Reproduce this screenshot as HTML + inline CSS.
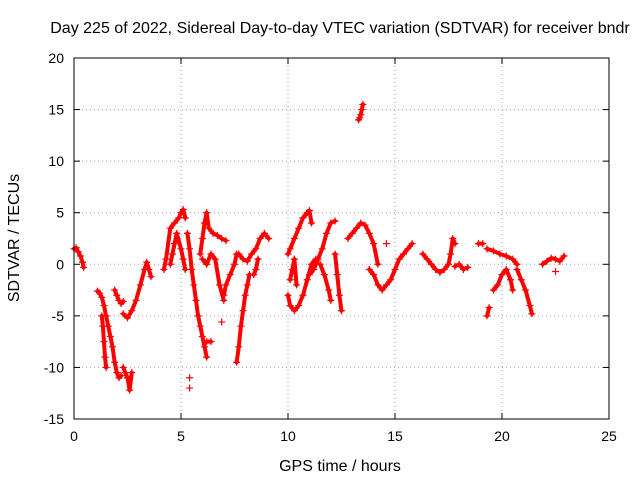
<!DOCTYPE html>
<html><head><meta charset="utf-8"><style>
body{margin:0;background:#fff;}
svg{font-family:"Liberation Sans",sans-serif;}
</style></head><body>
<svg id="c" width="640" height="480" viewBox="0 0 640 480">
<text x="340" y="33" font-size="16" text-anchor="middle">Day 225 of 2022, Sidereal Day-to-day VTEC variation (SDTVAR) for receiver bndr</text>
<text x="340" y="471" font-size="16" text-anchor="middle">GPS time / hours</text>
<text transform="translate(19,238) rotate(-90)" font-size="16" text-anchor="middle">SDTVAR / TECUs</text>
<g id="grid"></g><g id="marks"></g>
<rect x="74" y="58" width="535" height="361" fill="none" stroke="#000"/>
</svg>
<script>
const xTicks=[0,5,10,15,20,25];
const yTicks=[-15,-10,-5,0,5,10,15,20];
const trackX=[
[0,0.1,0.2,0.3,0.4,0.45],
[1.1,1.2,1.3,1.4,1.5,1.6,1.7,1.8,1.9,2.0,2.1,2.2],
[1.3,1.35,1.4,1.45,1.5],
[2.3,2.4,2.5,2.6,2.7],
[1.9,2.0,2.1,2.2,2.3],
[2.3,2.5,2.7,2.9,3.1,3.3,3.4,3.5,3.6],
[4.2,4.3,4.5,4.7,4.9,5.0,5.1,5.2],
[4.5,4.6,4.7,4.8,5.0,5.1,5.2],
[5.3,5.4,5.5,5.6,5.7,5.8,5.9,6.0,6.1,6.2],
[6.2,6.4],
[5.9,6.0,6.1,6.2,6.3,6.5,6.7,6.9,7.1],
[6.0,6.2,6.4,6.6,6.8,7.0],
[5.4],[5.4],[6.9],
[7.0,7.1,7.3,7.5,7.6],
[7.6,7.7,7.8,7.9,8.0,8.1,8.2],
[7.7,7.9,8.1,8.3,8.5,8.7,8.9,9.1],
[8.4,8.5,8.6],
[10,10.1,10.3,10.5,10.7,10.9,11.0,11.1],
[10,10.1,10.3,10.5,10.7,10.9,11.1,11.3],
[10.1,10.2,10.3,10.4],
[11.0,11.2,11.4,11.6,11.8,12,12.2],
[12.2,12.3,12.4,12.5],
[11.5,11.7,11.9,12.0],
[13.3,13.35,13.4,13.45,13.5],
[12.8,13.0,13.2,13.4,13.6,13.8,14,14.2],
[13.8,14.0,14.2,14.4,14.6,14.8,15,15.2,15.4,15.6,15.8],
[14.6],
[16.3,16.5,16.7,16.9,17.1,17.3,17.5,17.6,17.7,17.8],
[17.8,18,18.2,18.4],
[18.9,19.1],
[19.3,19.4],
[19.3,19.6,19.9,20.2,20.5,20.7],
[19.6,19.8,20,20.2,20.4,20.5],
[20.7,20.9,21.1,21.3,21.4],
[21.9,22.1,22.3,22.5,22.7,22.9],
[22.5]
];
const trackY=[
[1.5,1.6,1.2,0.8,0.2,-0.3],
[-2.6,-2.8,-3.2,-4,-5,-6,-7,-8,-9.5,-10.5,-11,-10.8],
[-5,-6,-7.5,-9,-10],
[-10,-10.5,-11,-12.2,-10.5],
[-2.5,-3,-3.5,-3.8,-3.6],
[-4.8,-5.2,-4.5,-3.5,-2,-0.5,0.2,-0.5,-1.2],
[-0.5,0.5,3.5,4,4.5,5,5.3,4.5],
[0,1,2,3,1.5,0.5,-0.5],
[3,1.5,-0.5,-2,-3.5,-5,-6,-7,-8,-9],
[-7.5,-7.5],
[1,2.5,4,5,3.5,3,2.8,2.5,2.3],
[0.5,0,1,0.5,-2,-3.5],
[-11],[-12],[-5.6],
[-3,-2,-1,0,1],
[-9.5,-8,-6,-4.5,-3,-2,-1],
[1,0.5,0.3,1,1.5,2.5,3,2.5],
[-1,-0.5,0.5],
[1,1.5,2.5,3.5,4.5,5,5.2,4],
[-3,-4,-4.5,-4,-3,-1.5,0,0.5],
[-1.5,-0.5,0.5,-2],
[-1,-0.5,0.5,1.5,3,4,4.2],
[1,-1,-3,-4.5],
[0,-1,-2.5,-3.5],
[14,14.2,14.5,15,15.5],
[2.5,3,3.5,4,3.8,3,2,0],
[-0.5,-1,-2,-2.5,-2,-1.5,-0.5,0.5,1,1.5,2],
[2],
[1,0.5,0,-0.5,-0.8,-0.5,0,1,2.5,2],
[-0.2,0,-0.5,-0.3],
[2,2],
[-5,-4.2],
[1.5,1.3,1,0.8,0.5,0],
[-2.5,-2,-1,-0.5,-1.5,-2.5],
[-0.5,-1.5,-2.5,-4,-4.8],
[0,0.3,0.6,0.5,0.3,0.8],
[-0.7]
];
const X0=74,X1=609,Y0=419,Y1=58;
function sx(v){return X0+(v-0)/(25-0)*(X1-X0);}
function sy(v){return Y0-(v+15)/(20+15)*(Y0-Y1);}
const NS="http://www.w3.org/2000/svg";
const svg=document.getElementById('c'),grid=document.getElementById('grid'),marks=document.getElementById('marks');
function mk(t,a,p){const e=document.createElementNS(NS,t);for(const k in a)e.setAttribute(k,a[k]);p.appendChild(e);return e;}
xTicks.forEach(t=>{const x=sx(t);
 const g=mk('line',{x1:x,x2:x,y1:Y1,y2:Y0,stroke:'#a0a0a0','stroke-dasharray':'1,3'},grid);
 
 
 mk('line',{x1:x,x2:x,y1:Y0,y2:Y0-6,stroke:'#000'},grid);
 mk('line',{x1:x,x2:x,y1:Y1,y2:Y1+6,stroke:'#000'},grid);
 const l=mk('text',{x:x,y:Y0+22,'font-size':14,'text-anchor':'middle'},svg);l.textContent=t;
 
 });
yTicks.forEach(t=>{const y=sy(t);
 const g=mk('line',{x1:X0,x2:X1,y1:y,y2:y,stroke:'#a0a0a0','stroke-dasharray':'1,3'},grid);
 
 
 mk('line',{x1:X0,x2:X0+6,y1:y,y2:y,stroke:'#000'},grid);
 mk('line',{x1:X1,x2:X1-6,y1:y,y2:y,stroke:'#000'},grid);
 const l=mk('text',{x:X0-10,y:y+5,'font-size':14,'text-anchor':'end'},svg);l.textContent=t;
 
 });
trackX.forEach((xs,i)=>{const ys=trackY[i];
 if(xs.length>1){const p=mk('polyline',{points:xs.map((v,j)=>sx(v)+','+sy(ys[j])).join(' '),fill:'none',stroke:'#f00','stroke-width':4,'stroke-linejoin':'round','stroke-linecap':'round'},marks);
 
 }
 xs.forEach((v,j)=>{const x=sx(v),y=sy(ys[j]);
  const m=mk('path',{d:`M${x-3.5},${y}h7M${x},${y-3.5}v7`,stroke:'#f00','stroke-width':1.2},marks);
  
  });
});
</script>
</body></html>
